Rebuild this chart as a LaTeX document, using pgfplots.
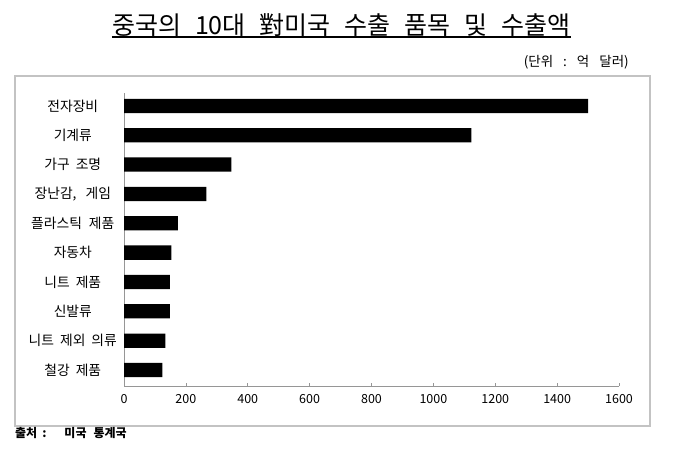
\documentclass[border=0pt]{standalone}
\usepackage{pgfplots}
\pgfplotsset{compat=1.18}
\usepackage{fontspec}
\setmainfont{Noto Sans CJK KR}
\newcommand\sq[1][6pt]{\hspace{#1}}
\definecolor{axisgray}{RGB}{150,150,150}
\definecolor{boxgray}{RGB}{195,195,195}
\begin{document}
\begin{tikzpicture}[x=1pt,y=1pt]
\fill[white] (0,0) rectangle (680,453);
\draw[boxgray, line width=1.2pt] (15,377) rectangle (650,27);
\begin{axis}[
  at={(124pt,67pt)}, anchor=south west,
  scale only axis, width=495pt, height=293.3pt,
  xbar, bar width=14.3pt,
  xmin=0, xmax=1600, ymin=-0.545, ymax=9.45,
  axis lines=left,
  axis line style={-, axisgray, line width=0.8pt},
  xtick={0,200,...,1600},
  tick align=inside, major tick length=3pt,
  xtick style={axisgray, line width=0.6pt},
  ytick={0,...,9},
  ytick style={draw=none},
  yticklabels={철강\sq 제품, 니트\sq 제외\sq 의류, 신발류, 니트\sq 제품, 자동차, 플라스틱\sq[7pt]제품, {장난감,\sq[9pt]게임}, 가구\sq 조명, 기계류, 전자장비},
  yticklabel style={text width=102pt, align=center, inner sep=0pt, font=\fontsize{13.8}{15}\selectfont},
  xticklabel style={font=\fontsize{12.5}{14}\selectfont, yshift=-5pt},
  /pgf/number format/assume math mode=true,
  /pgf/number format/set thousands separator={},
  scaled ticks=false,
  clip=false,
]
\addplot[fill=black, draw=none] coordinates {(124,0) (134,1) (148,2) (148,3) (153,4) (174,5) (266,6) (347,7) (1123,8) (1500,9)};
\end{axis}
\node[font=\fontsize{25}{30}\selectfont, inner sep=0pt] (t) at (341.4,428) {중국의\sq[14pt]10대\sq[14pt]對미국\sq[14pt]수출\sq[14pt]품목\sq[14pt]및\sq[14pt]수출액};
\path (0,416) coordinate (ul);
\draw[line width=1.2pt] (t.west |- ul) -- (t.east |- ul);
\node[anchor=east, inner sep=0pt, font=\fontsize{13.5}{15}\selectfont] at (629,391) {(단위\sq[10pt]:\sq[10pt]억\sq[10pt]달러)};
\node[anchor=west, inner sep=0pt, font=\bfseries\fontsize{12}{14}\selectfont] at (15,20) {출처\sq[5pt]:\sq[18pt]미국\sq[7pt]통계국};
\end{tikzpicture}
\end{document}
